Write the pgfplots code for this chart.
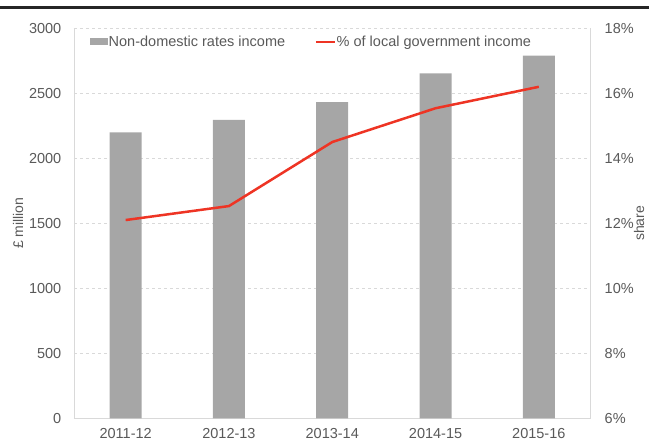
\documentclass[border=0pt]{standalone}
\usepackage{pgfplots}
\pgfplotsset{compat=1.18}
\usepackage{fontspec}
\setmainfont{Liberation Sans}
\definecolor{bargray}{RGB}{166,166,166}
\definecolor{linered}{RGB}{238,52,36}
\definecolor{gridgray}{RGB}{217,217,217}
\definecolor{txtgray}{RGB}{89,89,89}
\pgfplotsset{
  barlegend/.style={legend image code/.code={\fill[bargray] (0pt,-3.5pt) rectangle (18pt,3.5pt);}},
  linelegend/.style={legend image code/.code={\draw[linered, line width=2.5pt] (0pt,0pt) -- (19pt,0pt);}},
}
\begin{document}
\begin{tikzpicture}[x=1pt,y=1pt]
\useasboundingbox (0,0) rectangle (649,441);
\fill[black!85] (0,431.5) rectangle (649,434.5);
\begin{axis}[
  at={(74pt,22.7pt)}, anchor=south west,
  scale only axis, width=516.5pt, height=390pt,
  xmin=-0.5, xmax=4.5, ymin=0, ymax=3000,
  xtick={0,1,2,3,4},
  xticklabels={2011-12,2012-13,2013-14,2014-15,2015-16},
  ytick={0,500,...,3000},
  axis x line*=bottom, axis y line*=left,
  axis line style={draw=gridgray, line width=0.8pt, -},
  ymajorgrids, grid style={dashed, gridgray, line width=0.8pt},
  major tick length=0pt,
  tick label style={font=\fontsize{14.5}{17}\selectfont, text=txtgray},
  /pgf/number format/assume math mode=true,
  /pgf/number format/1000 sep={},
  yticklabel style={inner sep=0pt, xshift=-12.5pt},
  xticklabel style={inner sep=0pt, yshift=-9.5pt},
  ylabel={£ million},
  ylabel style={at={(axis description cs:-0.1084,0.5)}, anchor=center,
    font=\fontsize{14}{16}\selectfont, text=txtgray},
  legend columns=2,
  legend style={at={(0.031,0.965)}, anchor=west, draw=none, fill=none,
    inner sep=0pt, font=\fontsize{14.5}{17}\selectfont, text=txtgray,
    nodes={inner sep=0.5pt},
    /tikz/every even column/.append style={column sep=29pt}},
  legend cell align=left,
]
\addplot[ybar, bar width=32pt, fill=bargray, draw=none, barlegend]
  coordinates {(0,2200) (1,2295) (2,2433) (3,2654) (4,2789)};
\addlegendentry{Non-domestic rates income}
\addlegendimage{linered, line width=2.5pt, linelegend}
\addlegendentry{\% of local government income}
\end{axis}
\begin{axis}[
  at={(74pt,22.7pt)}, anchor=south west,
  scale only axis, width=516.5pt, height=390pt,
  xmin=-0.5, xmax=4.5, ymin=6, ymax=18,
  axis x line=none, axis y line*=right,
  axis line style={draw=gridgray, line width=0.8pt, -},
  ytick={6,8,10,12,14,16,18},
  yticklabels={6\%,8\%,10\%,12\%,14\%,16\%,18\%},
  major tick length=0pt,
  tick label style={font=\fontsize{14.5}{17}\selectfont, text=txtgray},
  /pgf/number format/assume math mode=true,
  yticklabel style={inner sep=0pt, xshift=14pt},
  ylabel={share},
  ylabel style={at={(axis description cs:1.0939,0.5)}, anchor=center,
    font=\fontsize{14}{16}\selectfont, text=txtgray},
]
\addplot[linered, line width=2.5pt, mark=none]
  coordinates {(0,12.1) (1,12.53) (2,14.5) (3,15.54) (4,16.2)};
\end{axis}
\end{tikzpicture}
\end{document}
